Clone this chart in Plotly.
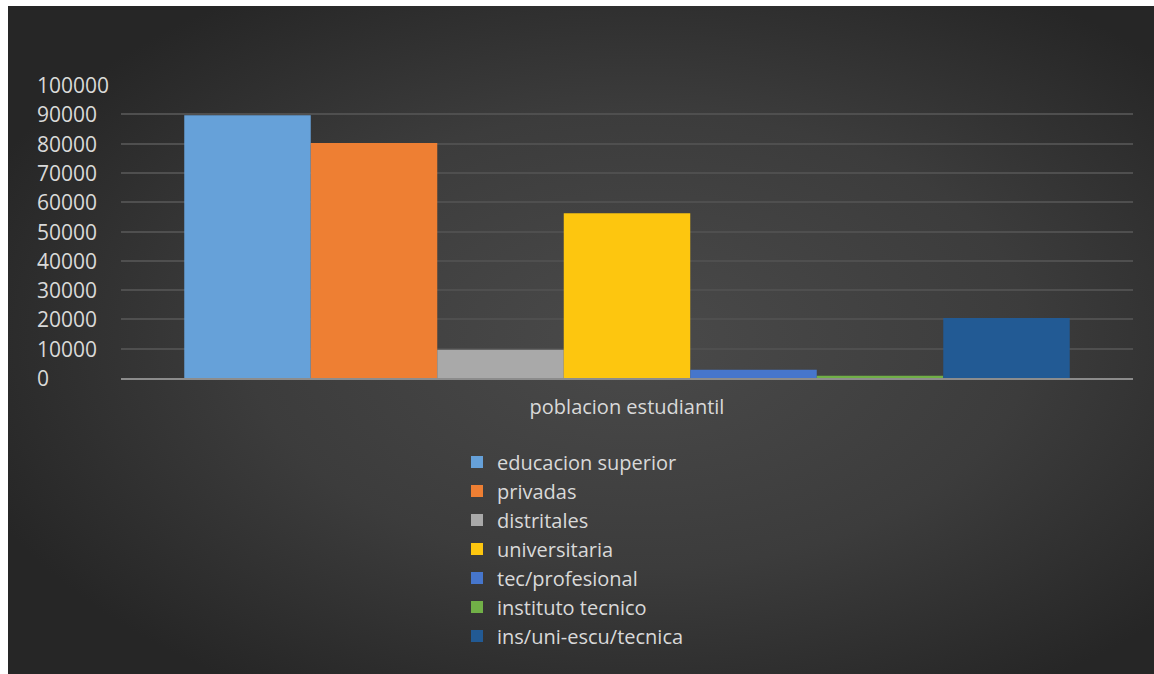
import base64
import plotly.graph_objects as go

category = ["poblacion estudiantil"]
series_names = [
    "educacion superior",
    "privadas",
    "distritales",
    "universitaria",
    "tec/profesional",
    "instituto tecnico",
    "ins/uni-escu/tecnica",
]
series_values = [89700, 80200, 9600, 56200, 2800, 800, 20500]
series_colors = ["#66a1d9", "#ee7f33", "#a9a9a9", "#fdc60f", "#4676cc", "#71b047", "#225a94"]
y_ticks = [0, 10000, 20000, 30000, 40000, 50000, 60000, 70000, 80000, 90000, 100000]
y_tick_labels = [str(v) for v in y_ticks]

W, H = 1154, 674
L, R, T, B = 121, 21, 85, 296
pw, ph = W - L - R, H - T - B

fig = go.Figure()
for i, (name, val, col) in enumerate(zip(series_names, series_values, series_colors)):
    fig.add_trace(go.Bar(
        x=category, y=[val], name=name,
        marker=dict(color=col, line=dict(width=0)),
        legendgroup=f"g{i}",
    ))

BW, BH = 1146, 668
svg = (f'<svg xmlns="http://www.w3.org/2000/svg" width="{BW}" height="{BH}" preserveAspectRatio="none">'
       '<defs><radialGradient id="g" cx="55%" cy="50%" r="62%">'
       '<stop offset="0" stop-color="#4a4a4a"/><stop offset="0.55" stop-color="#3c3c3c"/>'
       '<stop offset="1" stop-color="#262626"/></radialGradient></defs>'
       f'<rect width="{BW}" height="{BH}" fill="url(#g)"/></svg>')
src = "data:image/svg+xml;base64," + base64.b64encode(svg.encode()).decode()

x0 = (8 - L) / pw
x1 = (W - L) / pw
y0 = (T + ph - 6) / ph
y1 = (T + ph - H) / ph

FONT = "Open Sans"
annotations = []
for v, lab in zip(y_ticks, y_tick_labels):
    annotations.append(dict(
        x=(35 - L) / pw, xref="paper", y=v, yref="y", text=lab, showarrow=False,
        xanchor="left", yanchor="middle",
        font=dict(family=FONT, size=21, color="#d9d9d9"),
    ))

fig.update_layout(
    width=W, height=H,
    margin=dict(l=L, r=R, t=T, b=B, pad=0),
    paper_bgcolor="white",
    plot_bgcolor="rgba(0,0,0,0)",
    barmode="group", bargap=0.125, bargroupgap=0,
    images=[dict(source=src, xref="paper", yref="paper", x=x0, y=y0,
                 sizex=x1 - x0, sizey=y0 - y1, sizing="stretch",
                 xanchor="left", yanchor="top", layer="below")],
    xaxis=dict(type="category", showgrid=False, showline=True, linecolor="#8c8c8c",
               linewidth=2, ticks="", tickfont=dict(family=FONT, size=20, color="#d9d9d9"),
               ticklabelstandoff=10, zeroline=False),
    yaxis=dict(range=[0, 100000], tickvals=y_ticks, showticklabels=False,
               showgrid=True, gridcolor="#4f4f4f", gridwidth=2, zeroline=False,
               showline=False),
    legend=dict(x=(457 - L) / pw, xanchor="left", y=-0.22, yanchor="top",
                bgcolor="rgba(0,0,0,0)", font=dict(family=FONT, size=20, color="#d9d9d9"),
                tracegroupgap=2, traceorder="normal"),
    annotations=annotations,
    showlegend=True,
)

fig.write_html("out.html", config={"displayModeBar": False},
               post_script="document.body.style.margin='0';document.body.style.overflow='hidden';")
